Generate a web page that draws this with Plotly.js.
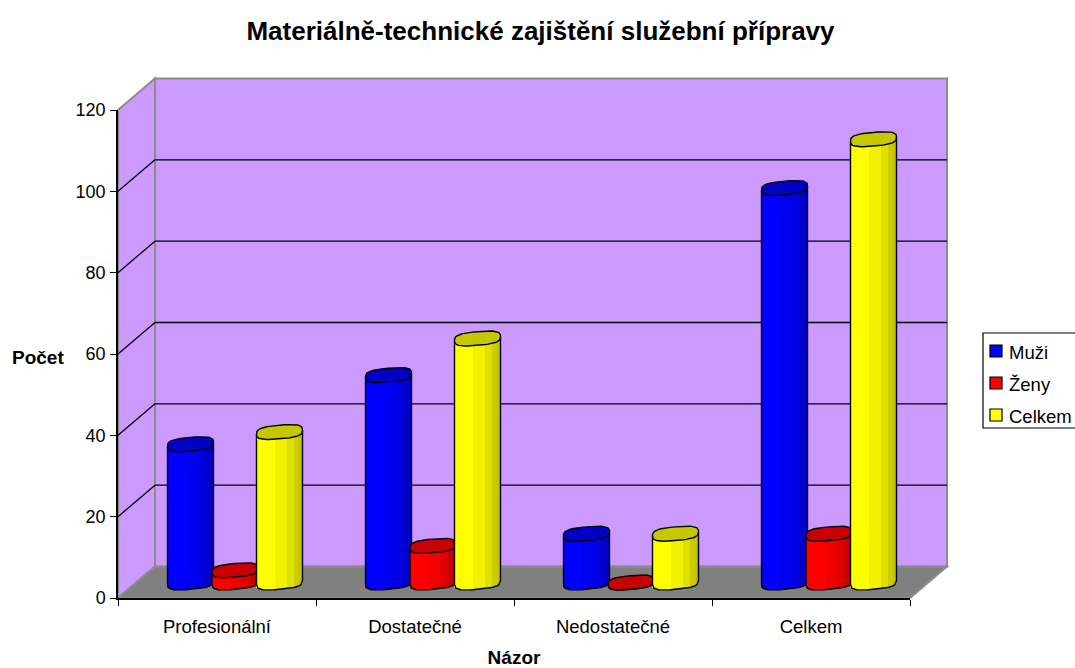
<!DOCTYPE html>
<html><head><meta charset="utf-8">
<script src="https://cdn.plot.ly/plotly-3.0.1.min.js"></script>
<style>html,body{margin:0;padding:0;background:#fff}#c{width:1075px;height:668px}</style></head>
<body><div id="c"></div>
<script>
// ---- data ----
const categories = ['Profesionální','Dostatečné','Nedostatečné','Celkem'];
const seriesNames = ['Muži','Ženy','Celkem'];
const muzi   = [34,51,12,97];
const zeny   = [3,9,0,12];
const celkem = [37,60,12,109];
const yTicks = [0,20,40,60,80,100,120];
const seriesValues = [muzi,zeny,celkem];
const seriesRGB = [[0,0,255],[255,0,0],[255,255,0]];
const bandShade = [1,1,1,1,1,1,1,1,1,1,.94,.94,.94,.94,.94,.94,.88,.88,.88,.88,.8,.8,.78,.76];

// ---- geometry (pixels) ----
const W=1075,H=668, FONT='"Liberation Sans",Arial,sans-serif';
const px=x=>x/W, py=y=>1-y/H;
const L=118,R=910,B=598,T=110, dx=37,dy=-31.5;     // front plane and depth
const ppu=(B-T)/120, catPx=(R-L)/4;
const midX=18, midBase=582.5;                     // plane of the cylinders
const barPx=46, stepPx=44.5;
const capA=barPx/2, capB=6.8, capTilt=2, P=3;
const ymin=-10,ymax=125;

const edge=u=>Math.pow(Math.max(0,1-Math.pow(Math.abs(u),P)),1/P);
const lowerPx=u=>-capTilt*u+capB*edge(u);

const traces=[{type:'scatter',mode:'none',x:categories,y:categories.map(()=>0),xaxis:'x',yaxis:'y',showlegend:false,hoverinfo:'skip'}];
seriesValues.forEach((vals,s)=>{
  const xa='x'+(s+2), ya='y'+(s+2);
  const off=(s-1)*stepPx/catPx, w=barPx/catPx, n=bandShade.length;
  const bx=[],by=[],bb=[],bo=[],bw=[],bc=[],bt=[];
  vals.forEach((v,c)=>{
    bandShade.forEach((sh,k)=>{
      const f=(k+.5)/n, u=2*f-1;
      bx.push(c);by.push(v);bb.push(-lowerPx(u)/ppu);
      bo.push(off+(k/n-.5)*w);bw.push(w/n);
      bc.push('rgb('+seriesRGB[s].map(q=>Math.round(q*sh)).join(',')+')');
      bt.push(categories[c]);
    });
  });
  traces.push({type:'bar',name:seriesNames[s],x:bx,y:by,base:bb,offset:bo,width:bw,hovertext:bt,
    marker:{color:bc,line:{width:0}},xaxis:xa,yaxis:ya,showlegend:false});
  // body outline + cap
  const ox=[],oy=[],cx=[],cy=[];
  vals.forEach((v,c)=>{
    const xc=c+off;
    ox.push(xc-capA/catPx);oy.push(v-capTilt/ppu);
    for(let i=0;i<=30;i++){const u=-1+i/15; ox.push(xc+u*capA/catPx);oy.push(-lowerPx(u)/ppu);}
    ox.push(xc+capA/catPx);oy.push(v+capTilt/ppu);ox.push(null);oy.push(null);
    for(let i=0;i<=60;i++){
      const t=i/60*2*Math.PI,ct=Math.cos(t),st=Math.sin(t);
      const u=Math.sign(ct)*Math.pow(Math.abs(ct),2/P), q=Math.sign(st)*Math.pow(Math.abs(st),2/P);
      cx.push(xc+u*capA/catPx);cy.push(v+(capTilt*u-capB*q)/ppu);
    }
    cx.push(null);cy.push(null);
  });
  traces.push({type:'scatter',mode:'lines',x:ox,y:oy,line:{color:'#000',width:1.4},xaxis:xa,yaxis:ya,showlegend:false,hoverinfo:'skip'});
  traces.push({type:'scatter',mode:'lines',x:cx,y:cy,fill:'toself',fillcolor:'rgb('+seriesRGB[s].map(q=>Math.round(q*.78)).join(',')+')',
    line:{color:'#000',width:1.4},xaxis:xa,yaxis:ya,showlegend:false,hoverinfo:'skip',name:seriesNames[s]});
});

const poly=(pts,fill,line,lw)=>({type:'path',xref:'paper',yref:'paper',layer:'below',
  path:'M'+pts.map(p=>px(p[0])+','+py(p[1])).join('L')+'Z',fillcolor:fill,line:{color:line,width:lw}});
const seg=(x0,y0,x1,y1,col,lw)=>({type:'line',xref:'paper',yref:'paper',layer:'below',x0:px(x0),y0:py(y0),x1:px(x1),y1:py(y1),line:{color:col,width:lw}});
const GREY='#8c8c8c';
const shapes=[
  poly([[L+dx,T+dy],[R+dx,T+dy],[R+dx,B+dy],[L+dx,B+dy]],'#CC99FF',GREY,2),
  poly([[L,T],[L+dx,T+dy],[L+dx,B+dy],[L,B]],'#CC99FF',GREY,2),
  poly([[L,B],[L+dx,B+dy],[R+dx,B+dy],[R,B]],'#808080',GREY,2),
];
yTicks.slice(1,-1).forEach(v=>{
  const y=B-v*ppu;
  shapes.push(seg(L,y,L+dx,y+dy,'#000',1.3));
  shapes.push(seg(L+dx,y+dy,R+dx,y+dy,'#000',1.3));
});
// legend box
const annos=[
  {text:'<b>Počet</b>',xref:'paper',yref:'paper',x:px(38),xanchor:'center',y:py(357),yanchor:'middle',showarrow:false,font:{family:FONT,size:19,color:'#000'}},
];
shapes.push({type:'rect',xref:'paper',yref:'paper',layer:'above',x0:px(983),x1:px(1076),y0:py(333),y1:py(428),fillcolor:'#fff',line:{color:'#000',width:1.2}});
seriesNames.forEach((n,s)=>{
  const yc=351+32*s;
  shapes.push({type:'rect',xref:'paper',yref:'paper',layer:'above',x0:px(990),x1:px(1002),y0:py(yc-6),y1:py(yc+6),
    fillcolor:'rgb('+seriesRGB[s].join(',')+')',line:{color:'#000',width:1.2}});
  annos.push({text:n,xref:'paper',yref:'paper',x:px(1007),y:py(yc+1),xanchor:'left',yanchor:'middle',showarrow:false,font:{family:FONT,size:18.5,color:'#000'}});
});

const hidden=(o)=>Object.assign({visible:false,fixedrange:true},o);
const xr=[-.5,3.5], yr=[ymin,ymax];
const layout={
  width:W,height:H,margin:{l:0,r:0,t:0,b:0},paper_bgcolor:'#fff',plot_bgcolor:'rgba(0,0,0,0)',
  showlegend:false,barmode:'overlay',
  title:{text:'<b>Materiálně-technické zajištění služební přípravy</b>',x:px(540.5),xanchor:'center',y:py(31),yanchor:'middle',font:{family:FONT,size:26,color:'#000'}},
  font:{family:FONT,color:'#000'},
  xaxis:{type:'category',categoryorder:'array',categoryarray:categories,range:[-.5,3.5],domain:[px(L),px(R)],anchor:'y',
    tickson:'boundaries',ticks:'outside',ticklen:6,tickwidth:1.3,tickcolor:'#000',showline:true,linecolor:'#000',linewidth:1.5,showgrid:false,zeroline:false,
    tickfont:{family:FONT,size:18.5,color:'#000'},ticklabelstandoff:11,
    title:{text:'<b>Názor</b>',font:{family:FONT,size:19,color:'#000'},standoff:15}},
  yaxis:{range:[0,120],tickmode:'array',tickvals:yTicks,domain:[py(B),py(T)],anchor:'x',
    ticks:'outside',ticklen:6,tickwidth:1.3,tickcolor:'#000',showline:true,linecolor:'#000',linewidth:1.5,showgrid:false,zeroline:false,
    tickfont:{family:FONT,size:18,color:'#000'},ticklabelstandoff:1},
  xaxis2:hidden({range:xr,domain:[px(L+midX),px(R+midX)],anchor:'y2'}),
  yaxis2:hidden({range:yr,domain:[py(midBase-ymin*ppu),py(midBase-ymax*ppu)],anchor:'x2'}),
  xaxis3:hidden({range:xr,overlaying:'x2',anchor:'y3'}),
  yaxis3:hidden({range:yr,overlaying:'y2',anchor:'x3'}),
  xaxis4:hidden({range:xr,overlaying:'x2',anchor:'y4'}),
  yaxis4:hidden({range:yr,overlaying:'y2',anchor:'x4'}),
  shapes:shapes,annotations:annos
};
Plotly.newPlot('c',traces,layout,{displayModeBar:false,responsive:false});
</script></body></html>
